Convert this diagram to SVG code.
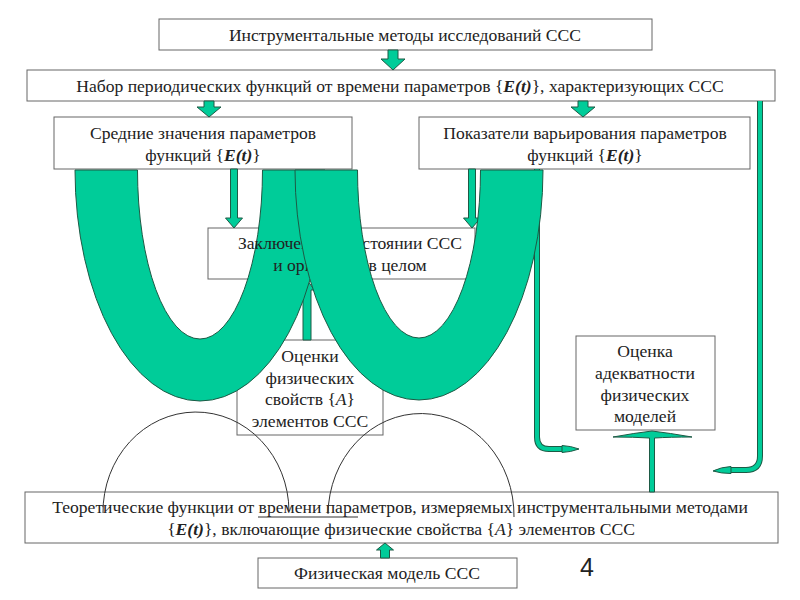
<svg xmlns="http://www.w3.org/2000/svg" width="800" height="600" viewBox="0 0 800 600">
<style>
.box{fill:#fff;stroke:#666;stroke-width:1}
.t{font-family:"Liberation Serif","Times New Roman",serif;font-size:17.6px;fill:#222;text-anchor:middle}
.bi{font-weight:bold;font-style:italic}
.i{font-style:italic}
.g{fill:#00CC99;stroke:#1d5a45;stroke-width:1}
.lo{fill:none;stroke:#1d5a45;stroke-width:6}
.li{fill:none;stroke:#00CC99;stroke-width:4}
.arc{fill:none;stroke:#333;stroke-width:1}
</style>
<rect width="800" height="600" fill="#fff"/>

<g id="n1"><rect class="box" x="159" y="19" width="493" height="31"/>
<text class="t" x="405" y="41">Инструментальные методы исследований ССС</text></g>

<g id="n2"><rect class="box" x="27" y="70" width="748" height="31"/>
<text class="t" x="400" y="92">Набор периодических функций от времени параметров {<tspan class="bi">E(t)</tspan>}, характеризующих ССС</text></g>

<g id="n3"><rect class="box" x="54" y="117" width="298" height="52"/>
<text class="t" x="203" y="139">Средние значения параметров</text>
<text class="t" x="203" y="161">функций {<tspan class="bi">E(t)</tspan>}</text></g>

<g id="n4"><rect class="box" x="419" y="117" width="331" height="52"/>
<text class="t" x="585" y="139">Показатели варьирования параметров</text>
<text class="t" x="585" y="161">функций {<tspan class="bi">E(t)</tspan>}</text></g>

<g id="n5"><rect class="box" x="208" y="228" width="267" height="51"/></g>

<g id="n6"><rect class="box" x="237" y="340" width="146" height="95"/>
<text class="t" x="310" y="362">Оценки</text>
<text class="t" x="310" y="384">физических</text>
<text class="t" x="310" y="405">свойств {<tspan class="i">A</tspan>}</text>
<text class="t" x="310" y="427">элементов ССС</text></g>

<g id="n7"><rect class="box" x="576" y="336" width="139" height="94"/>
<text class="t" x="645" y="357">Оценка</text>
<text class="t" x="645" y="379">адекватности</text>
<text class="t" x="645" y="401">физических</text>
<text class="t" x="645" y="422">моделей</text></g>

<g id="n8"><rect class="box" x="25" y="492" width="753" height="51"/>
<text class="t" x="400" y="513">Теоретические функции от времени параметров, измеряемых инструментальными методами</text>
<text class="t" x="401" y="535">{<tspan class="bi">E(t)</tspan>}, включающие физические свойства {<tspan class="i">A</tspan>} элементов ССС</text></g>

<g id="n9"><rect class="box" x="258" y="558" width="259" height="30"/>
<text class="t" x="387" y="579">Физическая модель ССС</text></g>

<g id="connectors">
<path class="g" d="M388,50 H398 V59 H405 L393,70 L381,59 H388 Z"/>
<path class="g" d="M204,101 H214 V107 H221 L209,117 L197,107 H204 Z"/>
<path class="g" d="M578,101 H588 V107 H595 L583,117 L571,107 H578 Z"/>
<path class="g" d="M230.5,169 H237.5 V218 H242.5 L234,228 L225.5,218 H230.5 Z"/>
<path class="g" d="M468.5,169 H475.5 V218 H480.5 L472,228 L463.5,218 H468.5 Z"/>
<path class="g" d="M303,340 V290 H299.5 L307,280 L314.5,290 H311 V340 Z"/>
<path class="g" d="M380.5,558 V550 H376.5 L385,543 L393.5,550 H389.5 V558 Z"/>

<path class="lo" d="M537,169 V437 Q537,449 549,449 H566"/>
<path class="li" d="M537,169 V437 Q537,449 549,449 H566"/>
<path class="g" d="M562,445.5 Q571,446 579,449 Q571,452 562,452.5 Z"/>

<path class="lo" d="M760,101 V456 Q760,470 746,470 H728"/>
<path class="li" d="M760,101 V456 Q760,470 746,470 H728"/>
<path class="g" d="M731,466.5 Q721,467 713,471 Q721,473.5 731,473.5 Z"/>

<path class="g" d="M649.5,492 V438 Q634,437 613,437 Q635,433 652,431 Q669,433 692,437 Q670,437 654.5,438 V492 Z"/>
</g>

<g id="u-left"><path class="g" d="M75,170 A125,231 0 0 0 325,170 L262.5,170 A62.5,169 0 0 1 137.5,170 Z"/></g>

<g id="n5-label">
<text class="t" x="350" y="249">Заключение о состоянии ССС</text>
<text class="t" x="350" y="271">и организма в целом</text></g>

<g id="u-right"><path class="g" d="M295,170 A124,230 0 0 0 543,170 L480.5,170 A61.5,168 0 0 1 357.5,170 Z"/></g>

<g id="arcs">
<path class="arc" d="M103,513 A93,100 0 0 1 289,511"/>
<path class="arc" d="M328,514 A93,102 0 0 1 514,517"/>
<line class="arc" x1="258" y1="517" x2="358" y2="517"/>
</g>

<text x="587" y="576" font-family="Liberation Sans, Arial, sans-serif" font-size="25" fill="#222" text-anchor="middle">4</text>
</svg>
